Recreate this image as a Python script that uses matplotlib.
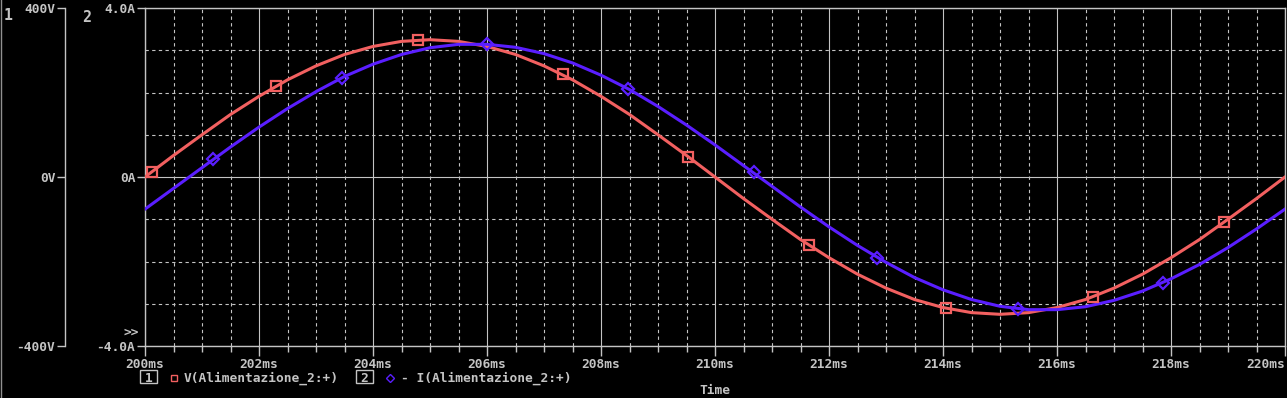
import numpy as np
import matplotlib
matplotlib.use("Agg")
import matplotlib.pyplot as plt
from matplotlib.lines import Line2D
from matplotlib.patches import Rectangle

# ---- data ----
time_ms = [200.0, 200.5, 201.0, 201.5, 202.0, 202.5, 203.0, 203.5, 204.0, 204.5,
           205.0, 205.5, 206.0, 206.5, 207.0, 207.5, 208.0, 208.5, 209.0, 209.5,
           210.0, 210.5, 211.0, 211.5, 212.0, 212.5, 213.0, 213.5, 214.0, 214.5,
           215.0, 215.5, 216.0, 216.5, 217.0, 217.5, 218.0, 218.5, 219.0, 219.5, 220.0]
v_volts = [0, 51, 100, 148, 191, 230, 263, 290, 309, 321,
           325, 321, 309, 290, 263, 230, 191, 148, 100, 51,
           0, -51, -100, -148, -191, -230, -263, -290, -309, -321,
           -325, -321, -309, -290, -263, -230, -191, -148, -100, -51, 0]
i_amps = [-0.76, -0.27, 0.22, 0.71, 1.18, 1.62, 2.02, 2.38, 2.67, 2.90,
          3.06, 3.14, 3.14, 3.07, 2.92, 2.70, 2.41, 2.07, 1.67, 1.23,
          0.76, 0.27, -0.22, -0.71, -1.18, -1.62, -2.02, -2.38, -2.67, -2.90,
          -3.06, -3.14, -3.14, -3.07, -2.92, -2.70, -2.41, -2.07, -1.67, -1.23, -0.76]

v_marker_t = [200.12, 202.30, 204.79, 207.33, 209.53, 211.65, 214.05, 216.63, 218.93]
v_marker_val = [12, 216, 324, 243, 47, -162, -311, -284, -107]
i_marker_t = [201.19, 203.46, 206.00, 208.47, 210.68, 212.84, 215.32, 217.86]
i_marker_val = [0.42, 2.35, 3.14, 2.09, 0.11, -1.91, -3.12, -2.50]

x_ticks = [200, 202, 204, 206, 208, 210, 212, 214, 216, 218, 220]
x_tick_labels = ["200ms", "202ms", "204ms", "206ms", "208ms", "210ms",
                 "212ms", "214ms", "216ms", "218ms", "220ms"]
a_ticks = [-4.0, 0.0, 4.0]
a_tick_labels = ["-4.0A", "0A", "4.0A"]
v_ticks = [-400, 0, 400]
v_tick_labels = ["-400V", "0V", "400V"]
legend_v = "V(Alimentazione_2:+)"
legend_i = "- I(Alimentazione_2:+)"
x_label = "Time"

# ---- style ----
W, H = 1287, 398
BG = "black"
FG = "#c4c4c4"
RED = "#f26060"
BLUE = "#5a1eff"
FONT = "DejaVu Sans Mono"
FS = 9.3
FW = "bold"

fig = plt.figure(figsize=(W / 100, H / 100), dpi=100, facecolor=BG)
left, right, top, bottom = 145, 1285, 8, 346
ax = fig.add_axes([left / W, 1 - bottom / H, (right - left) / W, (bottom - top) / H])
ax.set_facecolor(BG)

v_scaled = [v / 100.0 for v in v_volts]
ax.plot(time_ms, v_scaled, color=RED, lw=2.2, zorder=3)
ax.plot(time_ms, i_amps, color=BLUE, lw=2.2, zorder=4)
ax.plot(v_marker_t, [v / 100.0 for v in v_marker_val], ls="none", marker="s",
        ms=7, mfc="none", mec=RED, mew=1.6, zorder=5)
ax.plot(i_marker_t, i_marker_val, ls="none", marker="D", ms=6, mfc="none",
        mec=BLUE, mew=1.6, zorder=6)

ax.set_xlim(200, 220)
ax.set_ylim(-4, 4)
ax.set_xticks(x_ticks)
ax.set_xticklabels(x_tick_labels, family=FONT, fontsize=FS, color=FG, weight=FW)
ax.set_xticks(np.arange(200, 220.01, 0.5), minor=True)
ax.set_yticks(a_ticks)
ax.set_yticklabels(a_tick_labels, family=FONT, fontsize=FS, color=FG, weight=FW)
ax.set_yticks([-3, -2, -1, 1, 2, 3], minor=True)
ax.tick_params(axis="x", which="major", direction="out", length=7, width=1,
               color=FG, pad=1.5)
ax.tick_params(axis="x", which="minor", direction="out", length=4, width=1, color=FG)
ax.tick_params(axis="y", which="major", direction="out", length=6, width=1,
               color=FG, pad=1)
ax.tick_params(axis="y", which="minor", length=0)
xl = ax.get_xticklabels()
xl[-1].set_ha("right")
xl[-1].set_x(220)

ax.grid(which="major", color=FG, lw=0.8, ls="-", zorder=1)
ax.grid(which="minor", color=FG, lw=0.8, ls=(0, (3, 3)), zorder=1)
for s in ax.spines.values():
    s.set_color(FG)
    s.set_linewidth(1.0)

# voltage axis (axis 1)
sec = ax.secondary_yaxis((65 - left) / (right - left),
                         functions=(lambda a: a * 100.0, lambda v: v / 100.0))
sec.set_yticks(v_ticks)
sec.set_yticklabels(v_tick_labels, family=FONT, fontsize=FS, color=FG, weight=FW)
sec.tick_params(axis="y", direction="out", length=6, width=1, color=FG, pad=1)
sec.spines["left"].set_color(FG)
sec.spines["left"].set_linewidth(1.0)

def px(x, y):
    return x / W, 1 - y / H

fig.text(*px(4, 16), "1", family=FONT, fontsize=FS + 1.5, color=FG, va="center",
         ha="left", weight=FW)
fig.text(*px(82, 18), "2", family=FONT, fontsize=FS + 1.5, color=FG, va="center",
         ha="left", weight=FW)
fig.text(*px(123, 332), ">>", family=FONT, fontsize=FS, color=FG, va="center",
         ha="left", weight=FW)

# legend row
ly = 378
fig.add_artist(Rectangle(px(140, 383), 17 / W, 13 / H, fill=False, ec=FG, lw=1.0))
fig.text(*px(148.5, ly), "1", family=FONT, fontsize=FS, color=FG, va="center",
         ha="center", weight=FW)
fig.add_artist(Line2D([174 / W], [1 - ly / H], marker="s", ms=5, mfc="none",
                      mec=RED, mew=1.0, ls="none"))
fig.text(*px(184, ly), legend_v, family=FONT, fontsize=FS, color=FG, va="center",
         ha="left", weight=FW)
fig.add_artist(Rectangle(px(356, 383), 17 / W, 13 / H, fill=False, ec=FG, lw=1.0))
fig.text(*px(364.5, ly), "2", family=FONT, fontsize=FS, color=FG, va="center",
         ha="center", weight=FW)
fig.add_artist(Line2D([390 / W], [1 - ly / H], marker="D", ms=4.5, mfc="none",
                      mec=BLUE, mew=1.0, ls="none"))
fig.text(*px(401, ly), legend_i, family=FONT, fontsize=FS, color=FG, va="center",
         ha="left", weight=FW)
fig.text(*px(715, 391), x_label, family=FONT, fontsize=FS, color=FG, va="center",
         ha="center", weight=FW)

# window border at left edge
fig.add_artist(Line2D([0.5 / W, 0.5 / W], [0, 1], color="#909090", lw=1.0))

fig.savefig("out.png", dpi=100, facecolor=BG)
